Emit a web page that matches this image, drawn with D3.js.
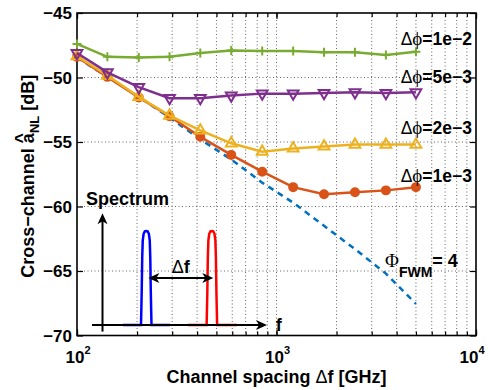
<!DOCTYPE html>
<html>
<head>
<meta charset="utf-8">
<script src="https://cdn.jsdelivr.net/npm/d3@7"></script>
<style>
  body { margin: 0; background: #fff; }
  text { font-family: "Liberation Sans", Arial, sans-serif; font-weight: bold; fill: #000; }
  .sym { font-family: "Liberation Serif", serif; font-weight: normal; }
  .delta { font-weight: normal; }
</style>
</head>
<body>
<div id="chart"></div>
<script>
// channel spacing (GHz) of the simulated points
const freqGHz = [100, 142, 204, 291, 415, 593, 848, 1212, 1731, 2474, 3535, 5000];

// cross-channel a_NL [dB] per phase-noise level
const dphi1e2 = [-47.4, -48.4, -48.45, -48.4, -48.1, -47.9, -47.95, -47.95, -48.05, -48.05, -48.25, -48.0];
const dphi5e3 = [-48.1, -49.6, -50.75, -51.6, -51.6, -51.4, -51.25, -51.25, -51.2, -51.15, -51.2, -51.15];
const dphi2e3 = [-48.35, -49.85, -51.5, -52.95, -54.1, -55.1, -55.75, -55.5, -55.35, -55.2, -55.2, -55.2];
const dphi1e3 = [-48.4, -49.95, -51.55, -53.0, -54.6, -56.0, -57.3, -58.5, -59.05, -58.9, -58.75, -58.5];
const phiFwm4 = [-48.45, -49.95, -51.5, -53.1, -54.8, -56.35, -58.15, -59.7, -61.5, -63.3, -65.2, -67.55];

const xTicks = [100, 1000, 10000];
const xTickExp = ["2", "3", "4"];
const yTicks = [-45, -50, -55, -60, -65, -70];

// curve labels: text after "Δϕ=", and baseline in dB
const labelVals = ["1e\u22122", "5e\u22123", "2e\u22123", "1e\u22123"];
const labelDb = [-47.5, -50.45, -54.35, -58.1];

const width = 488, height = 390;
const margin = { top: 13, right: 12, bottom: 54.5, left: 77 };

const x = d3.scaleLog().domain([100, 10000]).range([margin.left, width - margin.right]);
const y = d3.scaleLinear().domain([-70, -45]).range([height - margin.bottom, margin.top]);

const svg = d3.select("#chart").append("svg")
  .attr("width", width)
  .attr("height", height);

svg.append("rect").attr("width", width).attr("height", height).attr("fill", "#fff");

// dotted grid
const grid = svg.append("g")
  .attr("stroke", "#666")
  .attr("stroke-width", 1)
  .attr("stroke-dasharray", "1,2.5");
grid.selectAll(".gx")
  .data(x.ticks().filter(d => d > 100 && d < 10000))
  .join("line")
  .attr("x1", d => x(d)).attr("x2", d => x(d))
  .attr("y1", y(-45)).attr("y2", y(-70));
grid.selectAll(".gy")
  .data(yTicks.filter(d => d > -70 && d < -45))
  .join("line")
  .attr("y1", d => y(d)).attr("y2", d => y(d))
  .attr("x1", x(100)).attr("x2", x(10000));

// axes, ticks pointing inward on all four sides
function axisStyle(g) {
  g.select(".domain").remove();
  g.selectAll(".tick line").attr("stroke", "#000").attr("stroke-width", 1.2);
}
svg.append("g").attr("transform", `translate(0,${y(-70)})`)
  .call(d3.axisBottom(x).tickValues(x.ticks()).tickSize(-4).tickFormat("")).call(axisStyle);
svg.append("g").attr("transform", `translate(0,${y(-70)})`)
  .call(d3.axisBottom(x).tickValues(xTicks).tickSize(-6).tickFormat("")).call(axisStyle);
svg.append("g").attr("transform", `translate(0,${y(-45)})`)
  .call(d3.axisTop(x).tickValues(x.ticks()).tickSize(-4).tickFormat("")).call(axisStyle);
svg.append("g").attr("transform", `translate(0,${y(-45)})`)
  .call(d3.axisTop(x).tickValues(xTicks).tickSize(-6).tickFormat("")).call(axisStyle);
svg.append("g").attr("transform", `translate(${x(100)},0)`)
  .call(d3.axisLeft(y).tickValues(yTicks).tickSize(-6).tickFormat("")).call(axisStyle);
svg.append("g").attr("transform", `translate(${x(10000)},0)`)
  .call(d3.axisRight(y).tickValues(yTicks).tickSize(-6).tickFormat("")).call(axisStyle);

svg.append("rect")
  .attr("x", x(100)).attr("y", y(-45))
  .attr("width", x(10000) - x(100)).attr("height", y(-70) - y(-45))
  .attr("fill", "none").attr("stroke", "#000").attr("stroke-width", 1.6);

// tick labels
svg.append("g").selectAll("text")
  .data(yTicks)
  .join("text")
  .attr("x", x(100) - 5)
  .attr("y", d => y(d) + 6)
  .attr("text-anchor", "end")
  .attr("font-size", 17)
  .text(d => d3.format("")(d).replace("-", "\u2212"));

// last label kept inside the page edge
const xl = svg.append("g").selectAll("text")
  .data(xTicks)
  .join("text")
  .attr("x", d => Math.min(x(d) + 1, width - 16))
  .attr("y", 363)
  .attr("text-anchor", "middle")
  .attr("font-size", 17);
xl.append("tspan").text("10");
xl.append("tspan").attr("font-size", 11).attr("dy", -9).text((d, i) => xTickExp[i]);

// axis titles
const xt = svg.append("text")
  .attr("x", (x(100) + x(10000)) / 2)
  .attr("y", 383)
  .attr("text-anchor", "middle")
  .attr("font-size", 18);
xt.append("tspan").text("Channel spacing ");
xt.append("tspan").attr("class", "delta").text("\u0394");
xt.append("tspan").text("f [GHz]");

const yt = svg.append("text")
  .attr("transform", `translate(34,${(y(-45) + y(-70)) / 2 + 2}) rotate(-90)`)
  .attr("text-anchor", "middle")
  .attr("font-size", 18);
yt.append("tspan").text("Cross\u2212channel a");
yt.append("tspan").attr("dx", -10.3).attr("dy", -6).text("^");
yt.append("tspan").attr("font-size", 13).attr("dx", 0).attr("dy", 11).text("NL");
yt.append("tspan").attr("dy", -5).text(" [dB]");

// series
const line = d3.line().x((d, i) => x(freqGHz[i])).y(d => y(d));

svg.append("path").attr("d", line(phiFwm4))
  .attr("fill", "none").attr("stroke", "#0072BD").attr("stroke-width", 2.5)
  .attr("stroke-dasharray", "6,5");

const series = [
  { values: dphi1e3, color: "#D95319", marker: "dot" },
  { values: dphi2e3, color: "#EDB120", marker: "up" },
  { values: dphi5e3, color: "#7E2F8E", marker: "down" },
  { values: dphi1e2, color: "#77AC30", marker: "plus" }
];

const tri = d3.symbol(d3.symbolTriangle, 50)();

series.forEach(s => {
  svg.append("path").attr("d", line(s.values))
    .attr("fill", "none").attr("stroke", s.color).attr("stroke-width", 2.5);
  const m = svg.append("g").selectAll("path")
    .data(s.values)
    .join("path")
    .attr("stroke", s.color)
    .attr("stroke-width", 2);
  if (s.marker === "dot") {
    m.attr("d", d3.symbol(d3.symbolCircle, 50)())
      .attr("fill", s.color)
      .attr("transform", (d, i) => `translate(${x(freqGHz[i])},${y(d)})`);
  } else if (s.marker === "up") {
    m.attr("d", tri).attr("fill", "none")
      .attr("transform", (d, i) => `translate(${x(freqGHz[i])},${y(d)})`);
  } else if (s.marker === "down") {
    m.attr("d", tri).attr("fill", "none")
      .attr("transform", (d, i) => `translate(${x(freqGHz[i])},${y(d)}) rotate(180)`);
  } else {
    m.attr("d", "M-4.5,0H4.5M0,-4.5V4.5").attr("fill", "none")
      .attr("transform", (d, i) => `translate(${x(freqGHz[i])},${y(d)})`);
  }
});

// curve labels
const lab = svg.append("g").selectAll("text")
  .data(labelVals)
  .join("text")
  .attr("x", x(10000) - 4)
  .attr("y", (d, i) => y(labelDb[i]))
  .attr("text-anchor", "end")
  .attr("font-size", 17.5);
lab.append("tspan").attr("class", "delta").text("\u0394");
lab.append("tspan").attr("class", "sym").attr("font-size", 19).text("\u03D5");
lab.append("tspan").text(d => "=" + d);

const fwm = svg.append("text")
  .attr("x", x(3500))
  .attr("y", y(-64.7))
  .attr("font-size", 18);
fwm.append("tspan").attr("class", "sym").attr("font-size", 19).text("\u03A6");
fwm.append("tspan").attr("font-size", 14).attr("dy", 10).text("FWM");
fwm.append("tspan").attr("dy", -10).text("= 4");

// inset: spectrum sketch (own frequency / amplitude units)
const ix = d3.scaleLinear().domain([0, 10]).range([92, 267]);
const iy = d3.scaleLinear().domain([0, 1]).range([325, 231]);

const axisF = [[0, 0], [10, 0]];
const axisA = [[0.6, -0.07], [0.6, 1.19]];
const pulseCenters = [3.1, 6.85];
const pulseColors = ["#0000FF", "#FF0000"];
const pulseBase = [[1.77, 4.46], [5.49, 8.27]];
// offsets (freq units) and amplitude of one pulse outline
const pulseDx = [-0.3, -0.26, -0.23, -0.2, -0.15, -0.08, 0, 0.08, 0.15, 0.2, 0.23, 0.26, 0.3];
const pulseAmp = [0, 0.35, 0.72, 0.9, 0.97, 0.997, 1, 0.997, 0.97, 0.9, 0.72, 0.35, 0];
const spacingArrow = [3.22, 6.93, 0.5];

const inset = svg.append("g");
const iline = d3.line().x(d => ix(d[0])).y(d => iy(d[1]));

function arrowHead(g, tx, ty, angle) {
  g.append("path")
    .attr("d", "M0,0L-11,-5L-8,0L-11,5Z")
    .attr("fill", "#000")
    .attr("transform", `translate(${tx},${ty}) rotate(${angle})`);
}

pulseCenters.forEach((c, k) => {
  inset.append("path")
    .attr("d", iline([[pulseBase[k][0], 0], ...pulseDx.map((d, i) => [c + d, pulseAmp[i]]), [pulseBase[k][1], 0]]))
    .attr("fill", "none").attr("stroke", pulseColors[k]).attr("stroke-width", 2.5);
});

inset.append("path").attr("d", iline([axisF[0], [axisF[1][0] - 0.4, 0]]))
  .attr("stroke", "#000").attr("stroke-width", 2);
arrowHead(inset, ix(axisF[1][0]), iy(0), 0);
inset.append("path").attr("d", iline([axisA[0], [axisA[1][0], axisA[1][1] - 0.08]]))
  .attr("stroke", "#000").attr("stroke-width", 2);
arrowHead(inset, ix(axisA[1][0]), iy(axisA[1][1]), -90);

inset.append("path")
  .attr("d", iline([[spacingArrow[0] + 0.4, spacingArrow[2]], [spacingArrow[1] - 0.4, spacingArrow[2]]]))
  .attr("stroke", "#000").attr("stroke-width", 2);
arrowHead(inset, ix(spacingArrow[0]), iy(spacingArrow[2]), 180);
arrowHead(inset, ix(spacingArrow[1]), iy(spacingArrow[2]), 0);

const df = inset.append("text")
  .attr("x", ix((spacingArrow[0] + spacingArrow[1]) / 2))
  .attr("y", iy(spacingArrow[2]) - 5)
  .attr("text-anchor", "middle")
  .attr("font-size", 18);
df.append("tspan").attr("class", "delta").text("\u0394");
df.append("tspan").text("f");

inset.append("text").attr("x", ix(10.5)).attr("y", iy(-0.06)).attr("font-size", 18).text("f");
inset.append("text").attr("x", 86).attr("y", 205).attr("font-size", 18).text("Spectrum");
</script>
</body>
</html>
